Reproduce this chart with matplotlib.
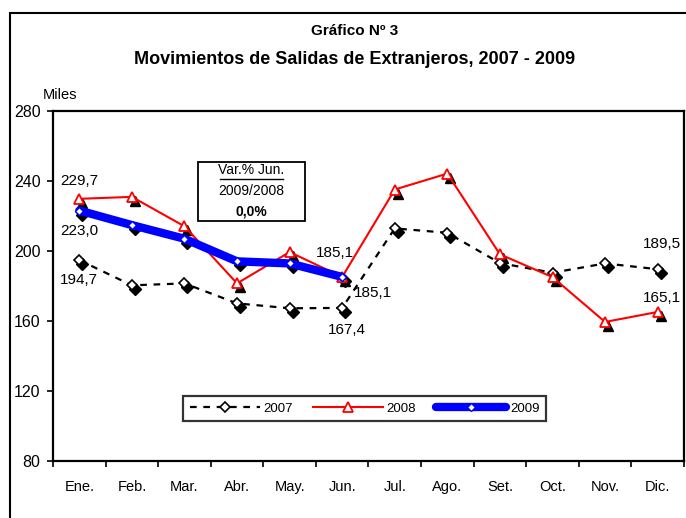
import matplotlib
matplotlib.use("Agg")
import matplotlib.pyplot as plt
import matplotlib.transforms as mtransforms
from matplotlib.patches import Rectangle
from matplotlib import font_manager

# Fuente estrecha tipo Arial Narrow si existe
nombres = {f.name for f in font_manager.fontManager.ttflist}
if "Liberation Sans Narrow" in nombres:
    plt.rcParams["font.family"] = ["Liberation Sans Narrow", "Liberation Sans", "DejaVu Sans"]
else:
    plt.rcParams["font.family"] = ["Liberation Sans", "DejaVu Sans"]

# Datos (miles)
meses = ["Ene.", "Feb.", "Mar.", "Abr.", "May.", "Jun.", "Jul.", "Ago.", "Set.", "Oct.", "Nov.", "Dic."]
s2007 = [194.7, 180.3, 181.4, 170.0, 167.2, 167.4, 212.8, 210.3, 193.0, 187.5, 192.8, 189.5]
s2008 = [229.7, 230.8, 214.0, 181.4, 199.3, 185.1, 235.0, 244.1, 198.0, 185.0, 159.4, 165.1]
s2009 = [223.0, 214.7, 206.9, 194.0, 192.8, 185.1]

x = list(range(1, 13))

fig = plt.figure(figsize=(6.86, 5.18), dpi=100)
ax = fig.add_axes([0.0773, 0.110, 0.9197, 0.6763])

# Sombras de los marcadores (estilo Excel)
sombra = mtransforms.offset_copy(ax.transData, fig=fig, x=3, y=-4, units="dots")
ax.plot(x, s2007, ls="none", marker="D", ms=6, color="black", transform=sombra, zorder=2)
ax.plot(x, s2008, ls="none", marker="^", ms=7, color="black", transform=sombra, zorder=2)
ax.plot(x[:6], s2009, ls="none", marker="D", ms=6, color="black", transform=sombra, zorder=2)

ax.plot(x, s2007, color="black", ls=(0, (3, 3)), lw=1.6, marker="D", ms=5,
        mfc="white", mec="black", mew=1.2, label="2007", zorder=3)
ax.plot(x, s2008, color="red", lw=1.5, marker="^", ms=7,
        mfc="white", mec="red", mew=1.3, label="2008", zorder=4)
ax.plot(x[:6], s2009, color="blue", lw=6, marker="D", ms=4, solid_capstyle="round",
        mfc="white", mec="blue", mew=1.0, label="2009", zorder=5)

# Etiquetas de datos
etiquetas = [
    (1, s2008[0], "229,7", (0, 13)),
    (1, s2009[0], "223,0", (0, -15)),
    (1, s2007[0], "194,7", (0, -14.5)),
    (6, s2009[5], "185,1", (-5, 17)),
    (6, s2008[5], "185,1", (22, -11.5)),
    (6, s2007[5], "167,4", (3.5, -16)),
    (12, s2007[11], "189,5", (3, 18)),
    (12, s2008[11], "165,1", (3, 10)),
]
for xi, yi, txt, off in etiquetas:
    ax.annotate(txt, xy=(xi, yi), xytext=off, textcoords="offset points",
                ha="center", va="center", fontsize=11, zorder=6)

# Ejes
ax.set_xlim(0.5, 12.5)
ax.set_ylim(80, 280)
ax.set_yticks([80, 120, 160, 200, 240, 280])
ax.set_xticks([i + 0.5 for i in range(0, 13)])
ax.set_xticklabels([])
ax.set_xticks(x, minor=True)
ax.set_xticklabels(meses, minor=True)
ax.tick_params(axis="x", which="major", direction="out", length=4, width=1.2)
ax.tick_params(axis="x", which="minor", length=0, pad=14, labelsize=10.5)
ax.tick_params(axis="y", direction="out", length=4, width=1.2, pad=5, labelsize=11.5)
for s in ax.spines.values():
    s.set_linewidth(1.6)

# Recuadro de variación
ax.text(0.3146, 0.83, "Var.% Jun.", transform=ax.transAxes, ha="center", va="center", fontsize=10)
ax.plot([0.265, 0.364], [0.805, 0.805], transform=ax.transAxes, color="black", lw=1.0)
ax.text(0.3146, 0.77, "2009/2008", transform=ax.transAxes, ha="center", va="center", fontsize=10)
ax.text(0.3146, 0.713, "0,0%", transform=ax.transAxes, ha="center", va="center",
        fontsize=10, fontweight="bold")
ax.add_patch(Rectangle((0.2298, 0.685), 0.1696, 0.1686, transform=ax.transAxes,
                       fill=False, ec="black", lw=1.3, zorder=6))

leg = ax.legend(loc="center", bbox_to_anchor=(0.4937, 0.150), ncol=3, handlelength=5.3,
                fontsize=9.5, frameon=True, fancybox=False, edgecolor="black",
                borderpad=0.5, columnspacing=1.5, handletextpad=0.3)
leg.get_frame().set_linewidth(1.6)

# Títulos y rótulo
fig.text(0.5175, 0.940, "Gráfico Nº 3", ha="center", va="center", fontsize=11, fontweight="bold")
fig.text(0.5175, 0.886, "Movimientos de Salidas de Extranjeros, 2007 - 2009",
         ha="center", va="center", fontsize=13, fontweight="bold")
fig.text(0.088, 0.817, "Miles", ha="center", va="center", fontsize=10.5)

# Marco del gráfico
fig.add_artist(Rectangle((0.0146, -0.05), 1.2, 0.05 + 0.975, transform=fig.transFigure,
                         fill=False, ec="black", lw=1.5))

fig.savefig("out.png", dpi=100)
